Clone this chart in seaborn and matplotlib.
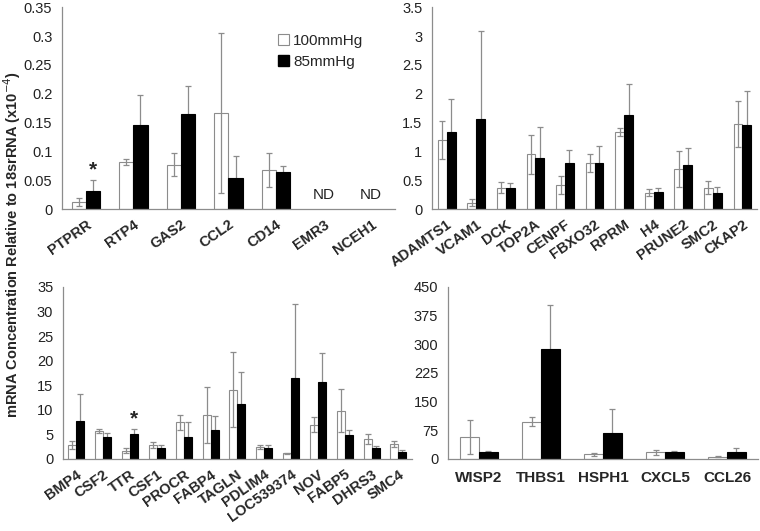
import numpy as np
import pandas as pd
import matplotlib
matplotlib.use("Agg")
import matplotlib.pyplot as plt
from matplotlib.patches import Patch
import seaborn as sns

# panel A (top left)
genes_a = ["PTPRR", "RTP4", "GAS2", "CCL2", "CD14", "EMR3", "NCEH1"]
ctrl_a = [0.012, 0.082, 0.077, 0.166, 0.068, np.nan, np.nan]
ctrl_a_err = [0.007, 0.005, 0.020, 0.139, 0.029, np.nan, np.nan]
low_a = [0.032, 0.145, 0.165, 0.053, 0.064, np.nan, np.nan]
low_a_err = [0.018, 0.052, 0.049, 0.039, 0.011, np.nan, np.nan]

# panel B (top right)
genes_b = ["ADAMTS1", "VCAM1", "DCK", "TOP2A", "CENPF", "FBXO32", "RPRM",
           "H4", "PRUNE2", "SMC2", "CKAP2"]
ctrl_b = [1.20, 0.11, 0.37, 0.95, 0.42, 0.80, 1.34, 0.28, 0.70, 0.37, 1.47]
ctrl_b_err = [0.33, 0.06, 0.10, 0.34, 0.16, 0.16, 0.07, 0.06, 0.31, 0.11, 0.40]
low_b = [1.33, 1.56, 0.36, 0.89, 0.79, 0.80, 1.63, 0.29, 0.77, 0.27, 1.46]
low_b_err = [0.57, 1.52, 0.09, 0.53, 0.24, 0.30, 0.53, 0.08, 0.28, 0.11, 0.58]

# panel C (bottom left)
genes_c = ["BMP4", "CSF2", "TTR", "CSF1", "PROCR", "FABP4", "TAGLN", "PDLIM4",
           "LOC539374", "NOV", "FABP5", "DHRS3", "SMC4"]
ctrl_c = [2.9, 5.7, 1.7, 2.9, 7.5, 9.0, 14.1, 2.4, 1.2, 7.0, 9.8, 4.0, 3.1]
ctrl_c_err = [0.8, 0.4, 0.5, 0.6, 1.5, 5.7, 7.6, 0.4, 0.1, 1.5, 4.4, 1.0, 0.6]
low_c = [7.7, 4.4, 5.1, 2.3, 4.4, 5.9, 11.1, 2.3, 16.4, 15.6, 4.9, 2.3, 1.4]
low_c_err = [5.5, 0.9, 1.1, 0.5, 3.1, 2.9, 6.6, 0.5, 15.2, 5.9, 0.9, 0.4, 0.5]

# panel D (bottom right)
genes_d = ["WISP2", "THBS1", "HSPH1", "CXCL5", "CCL26"]
ctrl_d = [57, 98, 12, 17, 6]
ctrl_d_err = [45, 13, 3, 6, 1.5]
low_d = [17, 287, 67, 18, 19]
low_d_err = [5, 115, 65, 3, 9]

conditions = ["100mmHg", "85mmHg"]
grey = "#8c8c8c"

sns.set_style("white")
plt.rcParams["font.family"] = ["Liberation Sans", "DejaVu Sans"]


def draw_panel(ax, genes, ctrl, ctrl_err, low, low_err, ymax, step, rotate=True):
    df = pd.DataFrame({
        "gene": genes * 2,
        "condition": [conditions[0]] * len(genes) + [conditions[1]] * len(genes),
        "value": list(ctrl) + list(low),
    })
    sns.barplot(data=df, x="gene", y="value", hue="condition", order=genes,
                hue_order=conditions, palette=["white", "black"], width=0.6,
                errorbar=None, linewidth=0.8, legend=False, ax=ax)
    # white bars under the error bars, black bars over them
    for p in ax.patches:
        if p.get_facecolor()[0] > 0.5:
            p.set_edgecolor(grey)
            p.set_zorder(2)
        else:
            p.set_edgecolor("black")
            p.set_zorder(4)
    x = np.arange(len(genes))
    for off, vals, errs in [(-0.15, ctrl, ctrl_err), (0.15, low, low_err)]:
        ax.errorbar(x + off, vals, yerr=errs, fmt="none", ecolor=grey,
                    elinewidth=0.9, capsize=2.5, capthick=0.9, zorder=3)
    ax.set_xlim(-0.5, len(genes) - 0.5)
    ax.set_ylim(0, ymax)
    ax.set_yticks(np.arange(0, ymax + step / 2, step))
    ax.set_xticks(np.arange(-0.5, len(genes)), minor=True)
    ax.tick_params(axis="x", which="minor", length=4, color=grey, direction="out")
    ax.tick_params(axis="y", length=4, color=grey, direction="out", labelsize=10.5,
                   labelcolor="#222222", pad=3)
    if rotate:
        ax.set_xticks(x, genes, rotation=35, ha="right", rotation_mode="anchor",
                      fontweight="bold", fontsize=10.5)
        ax.tick_params(axis="x", which="major", length=0, pad=6)
    else:
        ax.set_xticks(x, genes, fontweight="bold", fontsize=11)
        ax.tick_params(axis="x", which="major", length=0, pad=9)
    ax.set_xlabel("")
    ax.set_ylabel("")
    for s in ["top", "right"]:
        ax.spines[s].set_visible(False)
    for s in ["left", "bottom"]:
        ax.spines[s].set_color(grey)
        ax.spines[s].set_linewidth(0.9)
        ax.spines[s].set_zorder(5)


fig = plt.figure(figsize=(7.6, 5.31), dpi=100)
ax1 = fig.add_axes([0.0816, 0.6064, 0.438, 0.380])
ax2 = fig.add_axes([0.5684, 0.6064, 0.428, 0.380])
ax3 = fig.add_axes([0.0829, 0.1356, 0.459, 0.324])
ax4 = fig.add_axes([0.5895, 0.1356, 0.408, 0.324])

draw_panel(ax1, genes_a, ctrl_a, ctrl_a_err, low_a, low_a_err, 0.35, 0.05)
ax1.set_yticks(np.arange(0, 0.351, 0.05), ["0", "0.05", "0.1", "0.15", "0.2", "0.25", "0.3", "0.35"])
draw_panel(ax2, genes_b, ctrl_b, ctrl_b_err, low_b, low_b_err, 3.5, 0.5)
ax2.set_yticks(np.arange(0, 3.51, 0.5), ["0", "0.5", "1", "1.5", "2", "2.5", "3", "3.5"])
draw_panel(ax3, genes_c, ctrl_c, ctrl_c_err, low_c, low_c_err, 35, 5)
draw_panel(ax4, genes_d, ctrl_d, ctrl_d_err, low_d, low_d_err, 450, 75, rotate=False)

# ND labels and significance stars
for i in [5, 6]:
    ax1.text(i, 0.013, "ND", ha="center", va="bottom", fontsize=11, color="#222222")
ax1.text(0.15, 0.052, "*", ha="center", va="bottom", fontsize=15, fontweight="bold")
ax3.text(2.15, 6.3, "*", ha="center", va="bottom", fontsize=15, fontweight="bold")

# legend
handles = [Patch(facecolor="white", edgecolor=grey, linewidth=0.8, label="100mmHg"),
           Patch(facecolor="black", edgecolor="black", label="85mmHg")]
ax1.legend(handles=handles, loc="upper left", bbox_to_anchor=(0.63, 0.9),
           frameon=False, fontsize=11, handlelength=0.7, handleheight=0.7,
           handletextpad=0.3, labelspacing=0.5, borderaxespad=0)

fig.text(0.016, 0.539, "mRNA Concentration Relative to 18srRNA (x10$^{-4}$)",
         rotation=90, ha="center", va="center", fontsize=10.5, fontweight="bold")

fig.savefig("out.png", dpi=100)
